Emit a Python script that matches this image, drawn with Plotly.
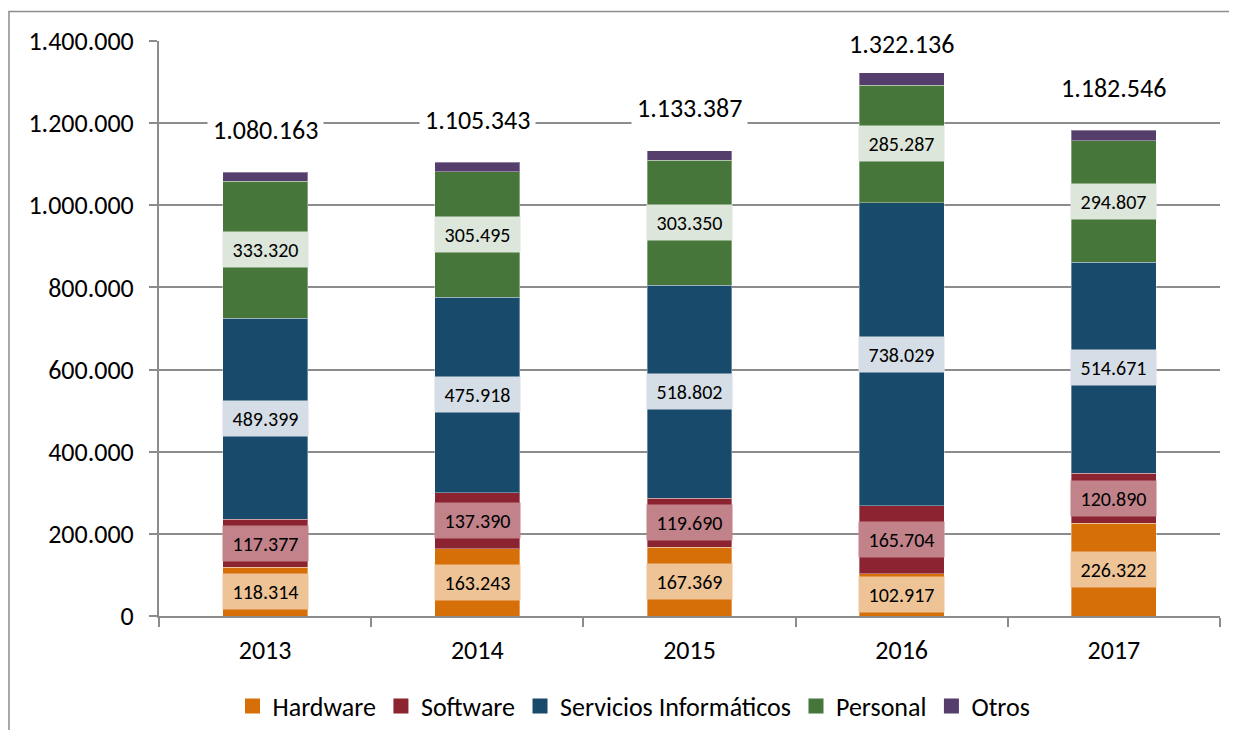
import plotly.graph_objects as go

years = ["2013", "2014", "2015", "2016", "2017"]
hardware = [118314, 163243, 167369, 102917, 226322]
software = [117377, 137390, 119690, 165704, 120890]
servicios = [489399, 475918, 518802, 738029, 514671]
personal = [333320, 305495, 303350, 285287, 294807]
otros = [21753, 23297, 24176, 30199, 25856]
totals = [1080163, 1105343, 1133387, 1322136, 1182546]

y_ticks = [0, 200000, 400000, 600000, 800000, 1000000, 1200000, 1400000]

series = [
    ("Hardware", hardware, "#D66F08", "#EEC396", True),
    ("Software", software, "#8C2330", "#C1828A", True),
    ("Servicios Informáticos", servicios, "#184B6B", "#D5DEE6", True),
    ("Personal", personal, "#46763A", "#DCE6DA", True),
    ("Otros", otros, "#553E6B", None, False),
]

FONT = "Calibri, Carlito, Lato, sans-serif"


def fmt(v):
    return f"{v:,}".replace(",", ".")


fig = go.Figure()
base = [0] * len(years)
annotations = []
for name, vals, color, lblbg, show_lbl in series:
    fig.add_trace(go.Bar(
        x=years, y=vals, name=name, showlegend=False, legendgroup=name,
        marker=dict(color=color, line=dict(color="rgba(255,255,255,0.35)", width=1)),
        width=0.4,
    ))
    if show_lbl:
        for i, v in enumerate(vals):
            annotations.append(dict(
                x=i, y=base[i] + v / 2, xref="x", yref="y",
                text=fmt(v), showarrow=False,
                font=dict(family=FONT, size=20, color="#000000"),
                bgcolor=lblbg, width=85, height=35, borderpad=0,
                xanchor="center", yanchor="middle",
            ))
    base = [b + v for b, v in zip(base, vals)]

# legend entries with square keys
for name, vals, color, lblbg, show_lbl in series:
    fig.add_trace(go.Scatter(
        x=[None], y=[None], mode="markers", name=name, legendgroup=name,
        marker=dict(symbol="square", size=15, color=color),
        showlegend=True, hoverinfo="skip",
    ))

# total labels above bars, kept inside the plot area
for i, t in enumerate(totals):
    annotations.append(dict(
        x=i, y=min(t + 103000, 1393000), xref="x", yref="y",
        text=fmt(t), showarrow=False,
        font=dict(family=FONT, size=26, color="#000000"),
        bgcolor="#FFFFFF", borderpad=5,
        xanchor="center", yanchor="middle",
    ))

grid = "#8C8C8C"
fig.update_layout(
    barmode="stack",
    width=1221, height=722,
    margin=dict(l=151, r=9, t=33, b=114),
    paper_bgcolor="#FFFFFF", plot_bgcolor="#FFFFFF",
    font=dict(family=FONT, size=26, color="#000000"),
    showlegend=True,
    legend=dict(
        orientation="h", traceorder="normal",
        xref="container", yref="container",
        x=0.5127, y=0.0332, xanchor="center", yanchor="middle",
        font=dict(family=FONT, size=26, color="#000000"),
        itemwidth=30,
    ),
    annotations=annotations,
    xaxis=dict(
        type="category", range=[-0.5, 4.5], autorange=False,
        showgrid=False,
        showline=True, linecolor=grid, linewidth=2,
        ticks="outside", tickson="boundaries", ticklen=9, tickcolor=grid, tickwidth=2,
        tickfont=dict(family=FONT, size=26, color="#000000"),
        ticklabelstandoff=10,
    ),
    yaxis=dict(
        range=[0, 1400000], autorange=False, tickvals=y_ticks,
        ticktext=[fmt(v) for v in y_ticks],
        showgrid=True, gridcolor=grid, gridwidth=2,
        showline=True, linecolor=grid, linewidth=2,
        ticks="outside", ticklen=8, tickcolor=grid, tickwidth=2,
        tickfont=dict(family=FONT, size=26, color="#000000"),
        ticklabelstandoff=10,
        zeroline=False,
    ),
    shapes=[dict(
        type="path", xref="paper", yref="paper",
        path="M -0.1414,-0.25 L -0.1414,1.0513 L 1.05,1.0513",
        line=dict(color=grid, width=1.5), layer="below",
    )],
)

fig.write_html("out.html")
